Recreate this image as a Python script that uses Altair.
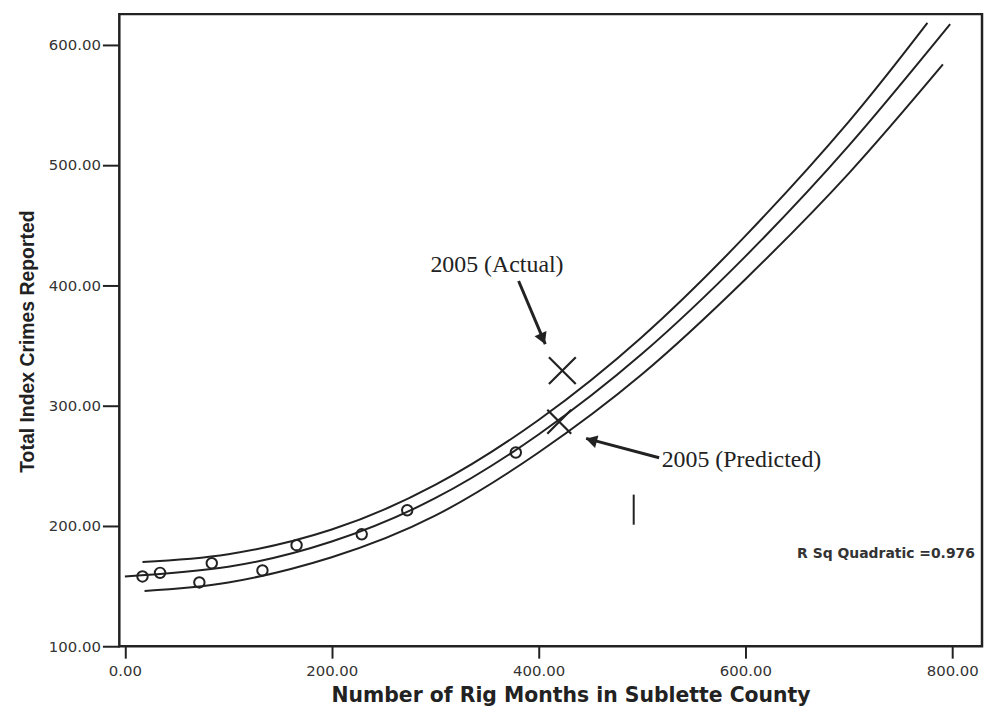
import altair as alt
import pandas as pd

# ---- data ----
center_x = [0, 100, 200, 300, 400, 500, 600, 700, 798]
center_y = [158, 166, 187, 223, 276, 343, 424, 516, 617]
upper_x = [17, 100, 200, 300, 400, 500, 600, 700, 776]
upper_y = [170, 176.5, 197, 234, 288, 357, 441, 536, 618]
lower_x = [19, 100, 200, 300, 400, 500, 600, 700, 791]
lower_y = [146, 153, 174, 208.5, 261, 326, 405, 493, 583.5]

pts_x = [17, 34, 72, 84, 133, 166, 229, 273, 378]
pts_y = [158, 161, 153, 169, 163, 184, 193, 213, 261]

mark_x = [423, 420]          # 2005 actual, 2005 predicted
mark_y = [329, 286.6]
mark_size = [729, 580]

label_text = ["2005 (Actual)", "2005 (Predicted)"]
label_x = [359.8, 596.2]
label_y = [416.7, 254.9]

arrow_id = ["a", "a", "p", "p"]
arrow_x = [380.7, 406.5, 516.6, 446.0]
arrow_y = [403.5, 351.0, 256.6, 272.7]
head_x = [404, 451]
head_y = [355.5, 271.2]
head_angle = [67, 195]

tick_x = [492]
tick_y = [201]
tick_y2 = [226]

rsq_text = ["R Sq Quadratic =0.976"]
rsq_x = [650]
rsq_y = [176.5]

x_ticks = [0, 200, 400, 600, 800]
y_ticks = [100, 200, 300, 400, 500, 600]

INK = "#222222"

curves = pd.DataFrame({
    "x": center_x + upper_x + lower_x,
    "y": center_y + upper_y + lower_y,
    "s": ["fit"] * len(center_x) + ["upper"] * len(upper_x) + ["lower"] * len(lower_x),
})
pts = pd.DataFrame({"x": pts_x, "y": pts_y})
marks = pd.DataFrame({"x": mark_x, "y": mark_y, "size": mark_size})
labels = pd.DataFrame({"x": label_x, "y": label_y, "t": label_text})
arrows = pd.DataFrame({"x": arrow_x, "y": arrow_y, "id": arrow_id})
heads = pd.DataFrame({"x": head_x, "y": head_y, "a": head_angle})
vt = pd.DataFrame({"x": tick_x, "y": tick_y, "y2": tick_y2})
rsq = pd.DataFrame({"x": rsq_x, "y": rsq_y, "t": rsq_text})

xs = alt.Scale(domain=[-5.4, 828.8], nice=False, zero=False)
ys = alt.Scale(domain=[100, 625.3], nice=False, zero=False)

xaxis = alt.Axis(
    values=x_ticks, format=".2f", grid=False, domain=False,
    tickSize=12, tickWidth=2, tickColor=INK,
    labelFont="DejaVu Sans", labelFontSize=15, labelColor="#333333", labelPadding=5,
    title="Number of Rig Months in Sublette County",
    titleFont="DejaVu Sans", titleFontSize=20.5, titleFontWeight="bold", titleColor=INK,
    titleX=454, titleY=50, titleBaseline="middle", titleAlign="center",
)
yaxis = alt.Axis(
    values=y_ticks, format=".2f", grid=False, domain=False,
    tickSize=17, tickWidth=2, tickColor=INK,
    labelFont="DejaVu Sans", labelFontSize=15, labelColor="#333333", labelPadding=2,
    title="Total Index Crimes Reported",
    titleFont="Liberation Sans", titleFontSize=19.5, titleFontWeight="bold", titleColor=INK,
    titleX=-92, titleY=329, titleAngle=270, titleBaseline="middle", titleAlign="center",
)

base_lines = alt.Chart(curves).mark_line(color=INK, strokeWidth=2, interpolate="natural").encode(
    x=alt.X("x:Q", scale=xs, axis=xaxis),
    y=alt.Y("y:Q", scale=ys, axis=yaxis),
    detail="s:N",
)

points = alt.Chart(pts).mark_point(
    shape="circle", filled=False, color=INK, strokeWidth=2, size=110, opacity=1
).encode(x=alt.X("x:Q", scale=xs), y=alt.Y("y:Q", scale=ys))

xmarks = alt.Chart(marks).mark_point(
    shape="M-1,-1L1,1M-1,1L1,-1", filled=False, color=INK, strokeWidth=2.2, opacity=1
).encode(
    x=alt.X("x:Q", scale=xs), y=alt.Y("y:Q", scale=ys),
    size=alt.Size("size:Q", scale=None, legend=None),
)

arrow_lines = alt.Chart(arrows).mark_line(color=INK, strokeWidth=3).encode(
    x=alt.X("x:Q", scale=xs), y=alt.Y("y:Q", scale=ys), detail="id:N"
)

arrow_heads = alt.Chart(heads).mark_point(
    shape="triangle-right", filled=True, color=INK, size=170, opacity=1
).encode(
    x=alt.X("x:Q", scale=xs), y=alt.Y("y:Q", scale=ys),
    angle=alt.Angle("a:Q", scale=None),
)

texts = alt.Chart(labels).mark_text(
    font="Liberation Serif", fontSize=24, color=INK, align="center", baseline="middle"
).encode(x=alt.X("x:Q", scale=xs), y=alt.Y("y:Q", scale=ys), text="t:N")

vrule = alt.Chart(vt).mark_rule(color=INK, strokeWidth=2).encode(
    x=alt.X("x:Q", scale=xs), y=alt.Y("y:Q", scale=ys), y2="y2:Q"
)

rsq_text_mark = alt.Chart(rsq).mark_text(
    font="DejaVu Sans", fontSize=14, fontWeight="bold", color="#333333", align="left", baseline="middle"
).encode(x=alt.X("x:Q", scale=xs), y=alt.Y("y:Q", scale=ys), text="t:N")

chart = alt.layer(
    base_lines, points, xmarks, arrow_lines, arrow_heads, texts, vrule, rsq_text_mark
).properties(
    width=868, height=636,
    padding={"left": 112, "top": 4, "right": 2, "bottom": 63},
    autosize=alt.AutoSizeParams(type="none"),
    background="white",
).configure_view(stroke=INK, strokeWidth=2.5)

chart.save("out.html", embed_options={"renderer": "svg", "actions": False})
